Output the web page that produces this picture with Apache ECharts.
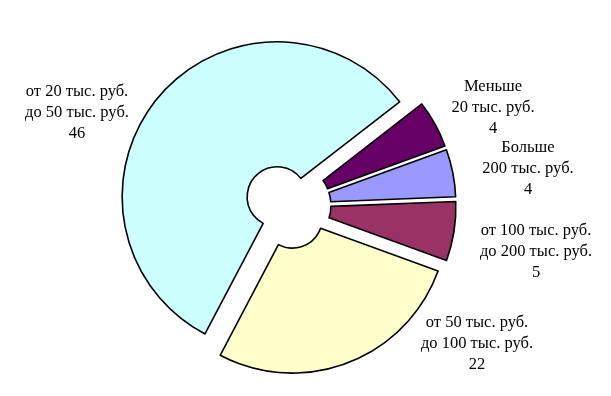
<!DOCTYPE html>
<html>
<head>
<meta charset="utf-8">
<script src="https://cdn.jsdelivr.net/npm/echarts@6/dist/echarts.min.js"></script>
<style>
html,body{margin:0;padding:0;background:#fff;}
#chart{width:611px;height:396px;}
</style>
</head>
<body>
<div id="chart"></div>
<script>
// Data (clockwise from the top-right gap)
const categories = [
  'Меньше\n20 тыс. руб.',
  'Больше\n200 тыс. руб.',
  'от 100 тыс. руб.\nдо 200 тыс. руб.',
  'от 50 тыс. руб.\nдо 100 тыс. руб.',
  'от 20 тыс. руб.\nдо 50 тыс. руб.'
];
const values = [4, 4, 5, 22, 46];

// Styles
const colors = ['#660066', '#9999FF', '#993366', '#FFFFCC', '#CCFFFF'];
const labelPos = [[493, 108], [528, 169], [536, 252], [477, 344], [77, 113]];

const chart = echarts.init(document.getElementById('chart'), null, {renderer: 'canvas'});

const sliceData = categories.map((name, i) => ({
  name: name,
  value: values[i],
  selected: true,
  itemStyle: {color: colors[i]},
  select: {itemStyle: {color: colors[i], borderColor: '#000', borderWidth: 1.6}}
}));
const labelData = categories.map((name, i) => ({name: name, value: values[i]}));

const common = {
  type: 'pie',
  center: [287.5, 205.5],
  radius: [30, 155],
  startAngle: 37.8,
  clockwise: true,
  avoidLabelOverlap: false,
  emphasis: {disabled: true},
  labelLine: {show: false}
};

chart.setOption({
  backgroundColor: '#ffffff',
  animation: false,
  series: [
    Object.assign({}, common, {
      selectedMode: 'multiple',
      selectedOffset: 13.5,
      itemStyle: {borderColor: '#000', borderWidth: 1.6},
      label: {show: false},
      data: sliceData
    }),
    Object.assign({}, common, {
      silent: true,
      selectedMode: false,
      itemStyle: {color: 'rgba(0,0,0,0)', borderWidth: 0},
      label: {
        show: true,
        position: 'outside',
        formatter: '{b}\n{c}',
        fontFamily: 'Liberation Serif',
        fontSize: 16.5,
        lineHeight: 21,
        color: '#000',
        align: 'center'
      },
      labelLayout: function (params) {
        const p = labelPos[params.dataIndex];
        return {x: p[0], y: p[1], align: 'center', verticalAlign: 'middle'};
      },
      data: labelData
    })
  ]
});
</script>
</body>
</html>
